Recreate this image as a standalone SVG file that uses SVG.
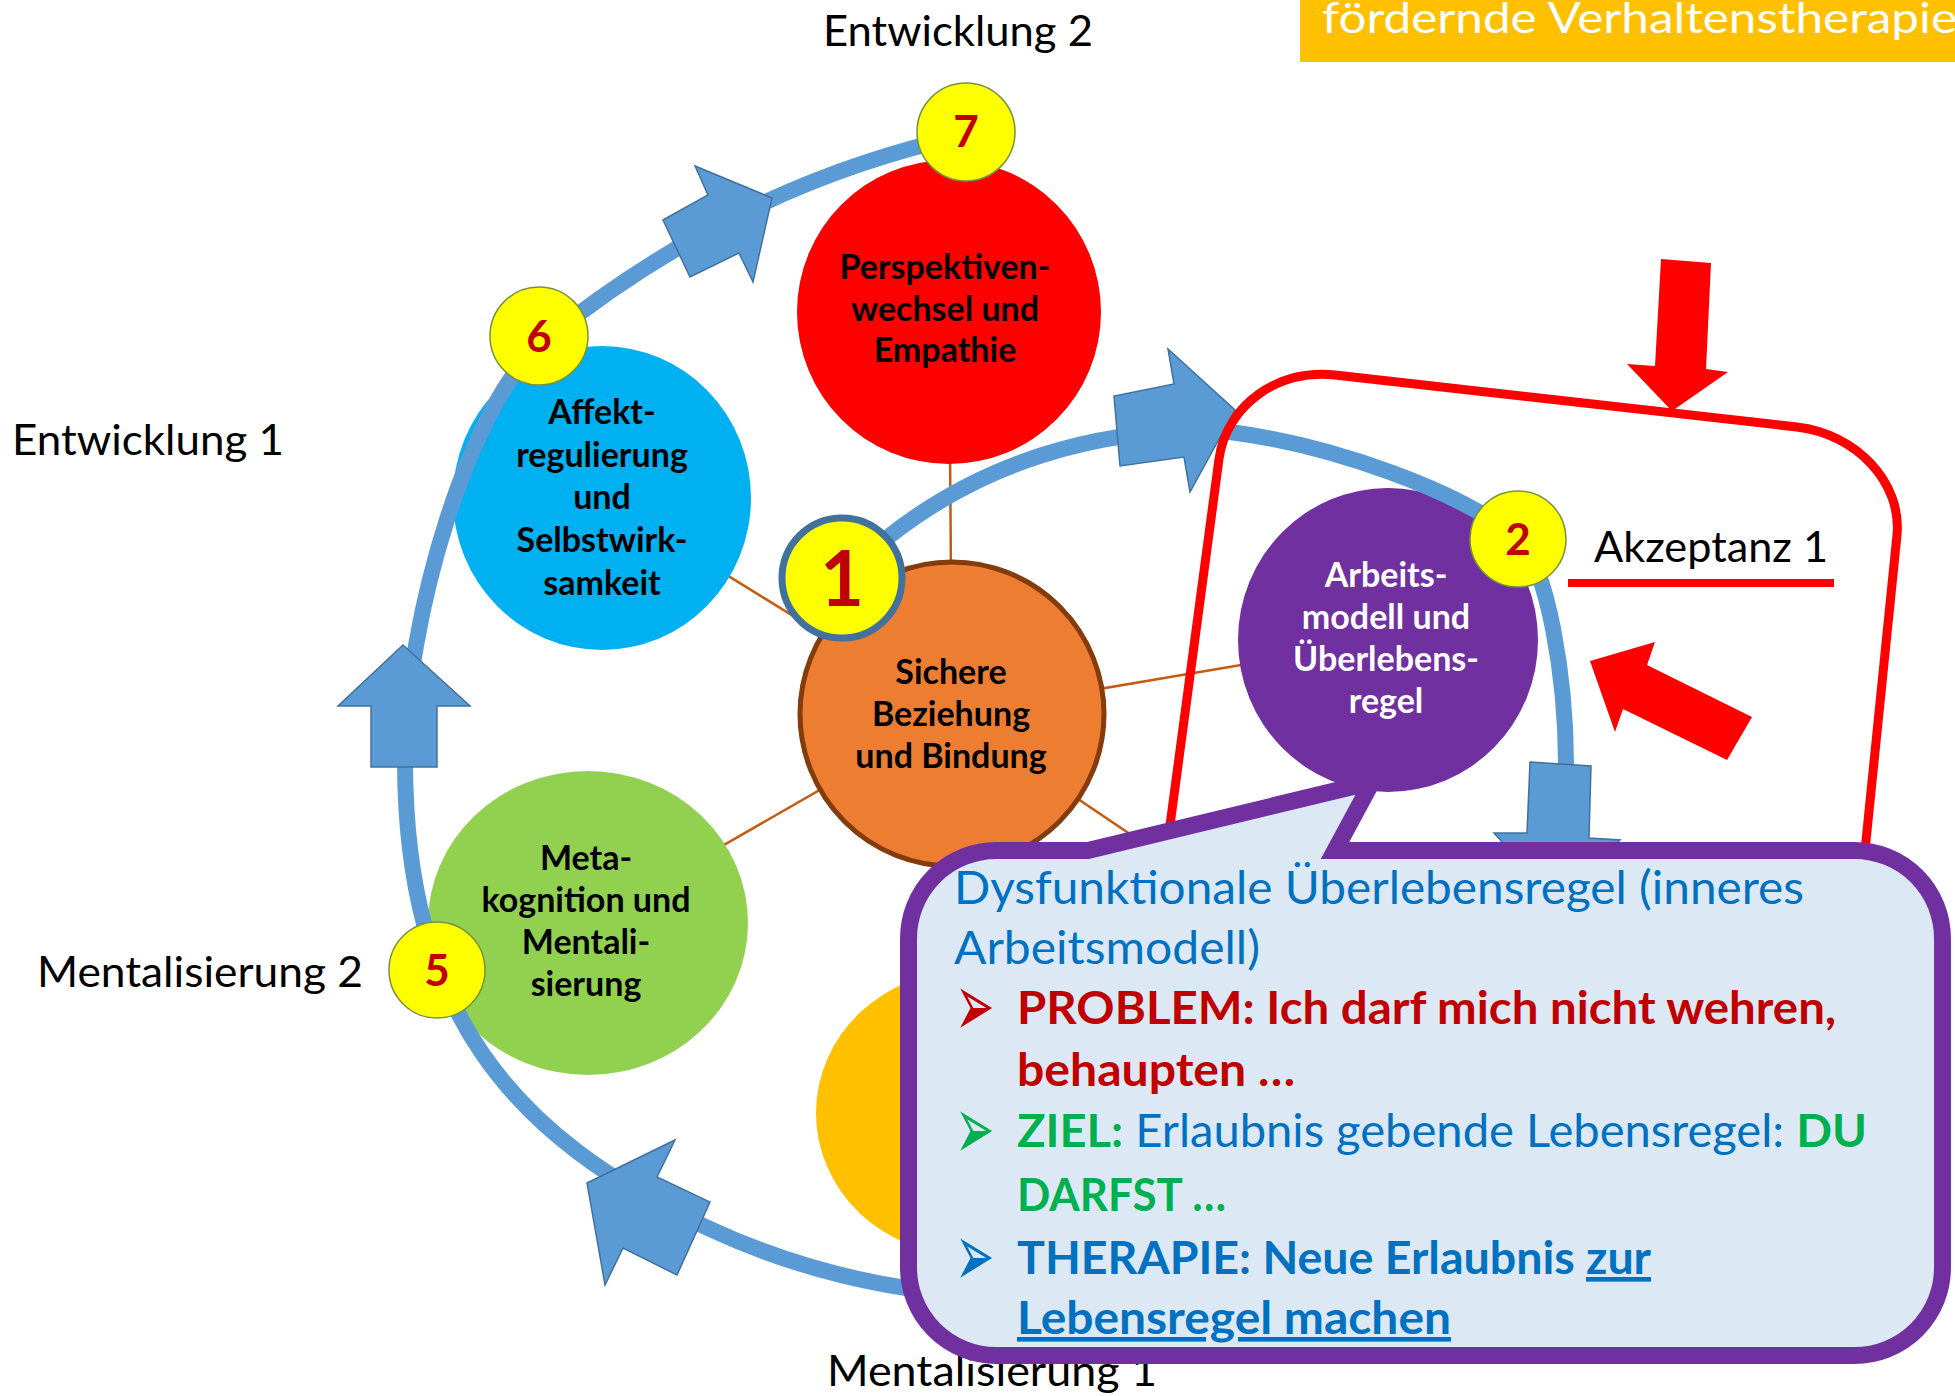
<svg xmlns="http://www.w3.org/2000/svg" width="1955" height="1396" viewBox="0 0 1955 1396">
  <style>
    .lbl { font-family: Lato, "Open Sans", "Liberation Sans", sans-serif; font-size: 43px; fill: #000; }
    .ct { font-family: Lato, "Open Sans", "Liberation Sans", sans-serif; font-size: 34px; font-weight: 700; text-anchor: middle; fill: #000; }
    .ct.w { fill: #fff; }
    .num { font-family: Lato, "Open Sans", "Liberation Sans", sans-serif; font-weight: 700; text-anchor: middle; fill: #c00000; }
    .ring { fill: none; stroke: #5b9bd5; stroke-width: 16; }
    .barrow { fill: #5b9bd5; stroke: #41719c; stroke-width: 1.5; stroke-linejoin: miter; }
    .spoke { stroke: #c55a11; stroke-width: 2.5; }
    .badge { fill: #ffff00; stroke: #76923c; stroke-width: 1.5; }
    .bt { font-family: Lato, "Open Sans", "Liberation Sans", sans-serif; font-size: 46px; fill: #0070c0; }
    .b { font-weight: 700; }
    .red { fill: #c00000; }
    .grn { fill: #00b050; }
    .bul { font-family: "DejaVu Sans", sans-serif; font-size: 47px; }
  </style>

  <!-- title banner -->
  <g id="banner">
    <rect x="1300" y="0" width="655" height="62" fill="#ffc000"/>
    <text x="1322" y="33" class="lbl" style="fill:#fff" textLength="635" lengthAdjust="spacingAndGlyphs">fördernde Verhaltenstherapie</text>
  </g>

  <!-- spokes from the centre circle -->
  <g id="spokes">
    <line class="spoke" x1="952" y1="714" x2="949" y2="312"/>
    <line class="spoke" x1="952" y1="714" x2="602" y2="498"/>
    <line class="spoke" x1="952" y1="714" x2="588" y2="923"/>
    <line class="spoke" x1="952" y1="714" x2="1388" y2="640"/>
    <line class="spoke" x1="952" y1="714" x2="1250" y2="915"/>
    <line class="spoke" x1="952" y1="714" x2="966" y2="1113"/>
  </g>

  <!-- topic circles -->
  <g id="node-perspektive">
    <circle cx="949" cy="312" r="152" fill="#ff0000"/>
    <text class="ct" x="945" y="279">Perspektiven-</text>
    <text class="ct" x="945" y="321">wechsel und</text>
    <text class="ct" x="945" y="362">Empathie</text>
  </g>
  <g id="node-affekt">
    <ellipse cx="602" cy="498" rx="149" ry="152" fill="#00b0f0"/>
    <text class="ct" x="602" y="424">Affekt-</text>
    <text class="ct" x="602" y="467">regulierung</text>
    <text class="ct" x="602" y="509">und</text>
    <text class="ct" x="602" y="552">Selbstwirk-</text>
    <text class="ct" x="602" y="595">samkeit</text>
  </g>
  <g id="node-gold">
    <ellipse cx="966" cy="1113" rx="150" ry="142" fill="#ffc000"/>
  </g>
  <g id="node-bindung">
    <circle cx="952" cy="714" r="152" fill="#ed7d31" stroke="#843c0c" stroke-width="5"/>
    <text class="ct" x="951" y="684">Sichere</text>
    <text class="ct" x="951" y="726">Beziehung</text>
    <text class="ct" x="951" y="768">und Bindung</text>
  </g>
  <g id="node-arbeitsmodell">
    <ellipse cx="1388" cy="640" rx="150" ry="152" fill="#7030a0"/>
    <text class="ct w" x="1386" y="587">Arbeits-</text>
    <text class="ct w" x="1386" y="629">modell und</text>
    <text class="ct w" x="1386" y="671">Überlebens-</text>
    <text class="ct w" x="1386" y="713">regel</text>
  </g>
  <g id="node-metakognition">
    <ellipse cx="588" cy="923" rx="160" ry="152" fill="#92d050"/>
    <text class="ct" x="586" y="870">Meta-</text>
    <text class="ct" x="586" y="912">kognition und</text>
    <text class="ct" x="586" y="954">Mentali-</text>
    <text class="ct" x="586" y="996">sierung</text>
  </g>

  <!-- cycle rings with block arrows -->
  <g id="connectors">
    <path class="ring" d="M 966 135 C 850 160, 700 215, 545 340 C 470 400, 405 620, 405 760 C 405 1010, 510 1137, 710 1229 C 790 1266, 880 1290, 980 1296"/>
    <path class="ring" d="M 842 578 C 968 452, 1120 425, 1230 432 C 1330 445, 1460 490, 1518 539 C 1548 565, 1566 680, 1566 765"/>
    <polygon class="barrow" points="403,645 470,706 437,706 437,767 371,767 371,706 338,706"/>
    <polygon class="barrow" points="663,220 708,195 695,166 772,198 753,282 739,253 690,277"/>
    <polygon class="barrow" points="587,1183 675,1140 657,1177 710,1202 677,1275 623,1248 605,1285"/>
    <polygon class="barrow" points="1235,410 1190,492 1184,457 1120,466 1114,396 1174,384 1168,349"/>
    <polygon class="barrow" points="1530,762 1591,766 1589,838 1620,840 1555,900 1494,833 1527,833"/>
  </g>

  <!-- step badges -->
  <g id="badge-1">
    <circle cx="842" cy="578" r="60" fill="#ffff00" stroke="#41719c" stroke-width="7"/>
    <text class="num" x="842" y="606" font-size="76">1</text>
  </g>
  <g id="badge-2">
    <circle class="badge" cx="1518" cy="539" r="48"/>
    <text class="num" x="1518" y="555" font-size="44">2</text>
  </g>
  <g id="badge-5">
    <circle class="badge" cx="437" cy="970" r="48"/>
    <text class="num" x="437" y="986" font-size="44">5</text>
  </g>
  <g id="badge-6">
    <circle class="badge" cx="539" cy="336" r="49"/>
    <text class="num" x="539" y="352" font-size="44">6</text>
  </g>
  <g id="badge-7">
    <circle class="badge" cx="966" cy="132" r="49"/>
    <text class="num" x="966" y="147" font-size="44">7</text>
  </g>

  <!-- stage labels -->
  <g id="labels">
    <text class="lbl" x="823" y="46" textLength="270" lengthAdjust="spacingAndGlyphs">Entwicklung 2</text>
    <text class="lbl" x="12" y="455" textLength="272" lengthAdjust="spacingAndGlyphs">Entwicklung 1</text>
    <text class="lbl" x="37" y="987" textLength="326" lengthAdjust="spacingAndGlyphs">Mentalisierung 2</text>
    <text class="lbl" x="827" y="1386" textLength="330" lengthAdjust="spacingAndGlyphs">Mentalisierung 1</text>
  </g>

  <!-- highlighted frame around step 2 -->
  <g id="focus-frame">
    <path d="M 1219 459 C 1226 406, 1278 368, 1335 375 L 1797 427 C 1857 434, 1902 483, 1897 535 L 1860 900 L 1160 900 Z" fill="none" stroke="#ff0000" stroke-width="9" stroke-linejoin="round"/>
    <polygon points="1661,259 1711,263 1706,369 1728,372 1672,411 1627,364 1655,366" fill="#ff0000"/>
    <polygon points="1590,661 1655,642 1647,665 1752,717 1727,760 1623,709 1615,732" fill="#ff0000"/>
    <text class="lbl" x="1594" y="562" textLength="234" lengthAdjust="spacingAndGlyphs">Akzeptanz 1</text>
    <rect x="1568" y="579" width="266" height="8" fill="#ff0000"/>
  </g>

  <!-- speech bubble -->
  <g id="bubble">
    <path d="M 996.5 850.5 L 1088 850.5 L 1372 782 L 1335 850.5 L 1854.5 850.5 A 88 88 0 0 1 1942.5 938.5 L 1942.5 1267.5 A 88 88 0 0 1 1854.5 1355.5 L 996.5 1355.5 A 88 88 0 0 1 908.5 1267.5 L 908.5 938.5 A 88 88 0 0 1 996.5 850.5 Z" fill="#dde8f5" stroke="#7030a0" stroke-width="17" stroke-linejoin="miter"/>
    <text class="bt" x="954" y="904" textLength="850" lengthAdjust="spacingAndGlyphs">Dysfunktionale Überlebensregel (inneres</text>
    <text class="bt" x="954" y="964" textLength="306" lengthAdjust="spacingAndGlyphs">Arbeitsmodell)</text>
    <text class="bul" transform="translate(955,1036) scale(1,1.9)" fill="#c00000">➢</text>
    <text class="bt b red" x="1017" y="1024" textLength="819" lengthAdjust="spacingAndGlyphs">PROBLEM: Ich darf mich nicht wehren,</text>
    <text class="bt b red" x="1017" y="1086" textLength="278" lengthAdjust="spacingAndGlyphs">behaupten …</text>
    <text class="bul" transform="translate(955,1159) scale(1,1.9)" fill="#00b050">➢</text>
    <text class="bt" x="1017" y="1147" textLength="850" lengthAdjust="spacingAndGlyphs"><tspan class="b grn">ZIEL:</tspan> Erlaubnis gebende Lebensregel: <tspan class="b grn">DU</tspan></text>
    <text class="bt b grn" x="1017" y="1211" textLength="209" lengthAdjust="spacingAndGlyphs">DARFST …</text>
    <text class="bul" transform="translate(955,1286) scale(1,1.9)" fill="#0070c0">➢</text>
    <text class="bt b" x="1017" y="1274" textLength="634" lengthAdjust="spacingAndGlyphs">THERAPIE: Neue Erlaubnis <tspan text-decoration="underline">zur</tspan></text>
    <text class="bt b" x="1017" y="1334" textLength="434" lengthAdjust="spacingAndGlyphs" text-decoration="underline">Lebensregel machen</text>
  </g>
</svg>
